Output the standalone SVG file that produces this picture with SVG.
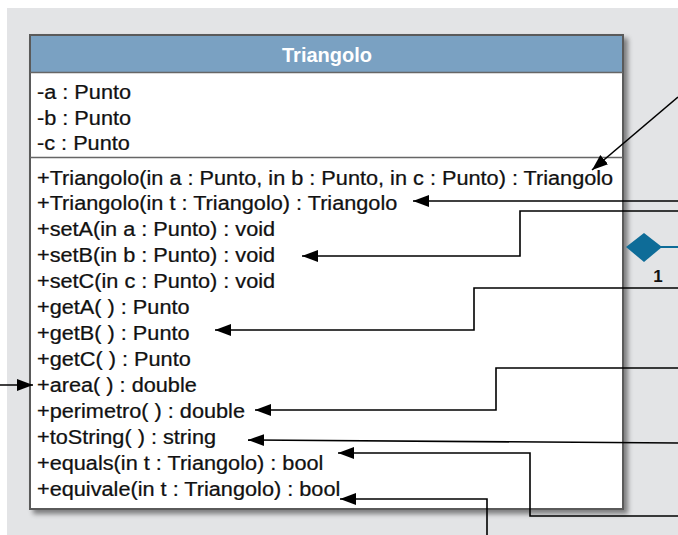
<svg xmlns="http://www.w3.org/2000/svg" width="678" height="535" viewBox="0 0 678 535">
  <defs>
    <filter id="shadow" x="-5%" y="-5%" width="112%" height="112%">
      <feDropShadow dx="4" dy="4" stdDeviation="2.5" flood-color="#000" flood-opacity="0.45"/>
    </filter>
    <marker id="arrow" viewBox="0 0 16 12" refX="16" refY="6" markerWidth="16" markerHeight="13" markerUnits="userSpaceOnUse" orient="auto">
      <path d="M0,0 L16,6 L0,12 Z" fill="#000"/>
    </marker>
  </defs>
  <style>
    .txt { font-family: "Liberation Sans", Arial, sans-serif; font-size: 20px; fill: #111; stroke: #111; stroke-width: 0.25; }
    .title { font-family: "Liberation Sans", Arial, sans-serif; font-size: 20px; font-weight: bold; fill: #fff; }
    .conn { fill: none; stroke: #000; stroke-width: 1.6; marker-end: url(#arrow); }
    .sep { stroke: #666; stroke-width: 1.5; }
  </style>

  <!-- canvas -->
  <rect x="0" y="0" width="678" height="535" fill="#fff"/>
  <rect x="7" y="8" width="671" height="527" fill="#e3e4e6"/>

  <!-- class Triangolo -->
  <g id="triangolo">
    <rect x="30" y="35" width="593" height="474" fill="#fff" stroke="#5a5a5a" stroke-width="2" filter="url(#shadow)"/>
    <rect x="31" y="36" width="591" height="36" fill="#7aa1c2"/>
    <line class="sep" x1="30" y1="72.5" x2="623" y2="72.5"/>
    <line class="sep" x1="30" y1="157.5" x2="623" y2="157.5"/>
    <text class="title" x="327" y="62" text-anchor="middle">Triangolo</text>

    <!-- compartment text, slightly widened -->
    <g transform="matrix(1.085 0 0 1 37 0)">
      <text class="txt" x="0" y="99">-a : Punto</text>
      <text class="txt" x="0" y="125">-b : Punto</text>
      <text class="txt" x="0" y="150">-c : Punto</text>

      <text class="txt" x="0" y="185">+Triangolo(in a : Punto, in b : Punto, in c : Punto) : Triangolo</text>
      <text class="txt" x="0" y="210">+Triangolo(in t : Triangolo) : Triangolo</text>
      <text class="txt" x="0" y="236">+setA(in a : Punto) : void</text>
      <text class="txt" x="0" y="262">+setB(in b : Punto) : void</text>
      <text class="txt" x="0" y="288">+setC(in c : Punto) : void</text>
      <text class="txt" x="0" y="314">+getA( ) : Punto</text>
      <text class="txt" x="0" y="340">+getB( ) : Punto</text>
      <text class="txt" x="0" y="366">+getC( ) : Punto</text>
      <text class="txt" x="0" y="392">+area( ) : double</text>
      <text class="txt" x="0" y="418">+perimetro( ) : double</text>
      <text class="txt" x="0" y="444">+toString( ) : string</text>
      <text class="txt" x="0" y="470">+equals(in t : Triangolo) : bool</text>
      <text class="txt" x="0" y="496">+equivale(in t : Triangolo) : bool</text>
    </g>
  </g>

  <!-- composition end towards the right -->
  <g id="composition">
    <line x1="650" y1="247" x2="678" y2="247" stroke="#0e6c98" stroke-width="2"/>
    <path d="M626,247 L644,233 L662,247 L644,262 Z" fill="#0e6c98"/>
    <text x="658" y="282" text-anchor="middle" font-family="Liberation Sans, Arial, sans-serif" font-size="17" font-weight="bold" fill="#111">1</text>
  </g>

  <!-- callout connectors -->
  <g id="connectors">
    <path class="conn" d="M678,97 L592,170"/>
    <path class="conn" d="M678,201 L413,201"/>
    <path class="conn" d="M678,211 L520,211 L520,256 L302,256"/>
    <path class="conn" d="M678,288 L474,288 L474,330 L215,330"/>
    <path class="conn" d="M0,385 L33,385"/>
    <path class="conn" d="M678,368 L496,368 L496,410 L255,410"/>
    <path class="conn" d="M678,443 L248,440"/>
    <path class="conn" d="M678,516 L530,516 L530,453 L338,453"/>
    <path class="conn" d="M487,535 L487,499 L340,499"/>
  </g>
</svg>
